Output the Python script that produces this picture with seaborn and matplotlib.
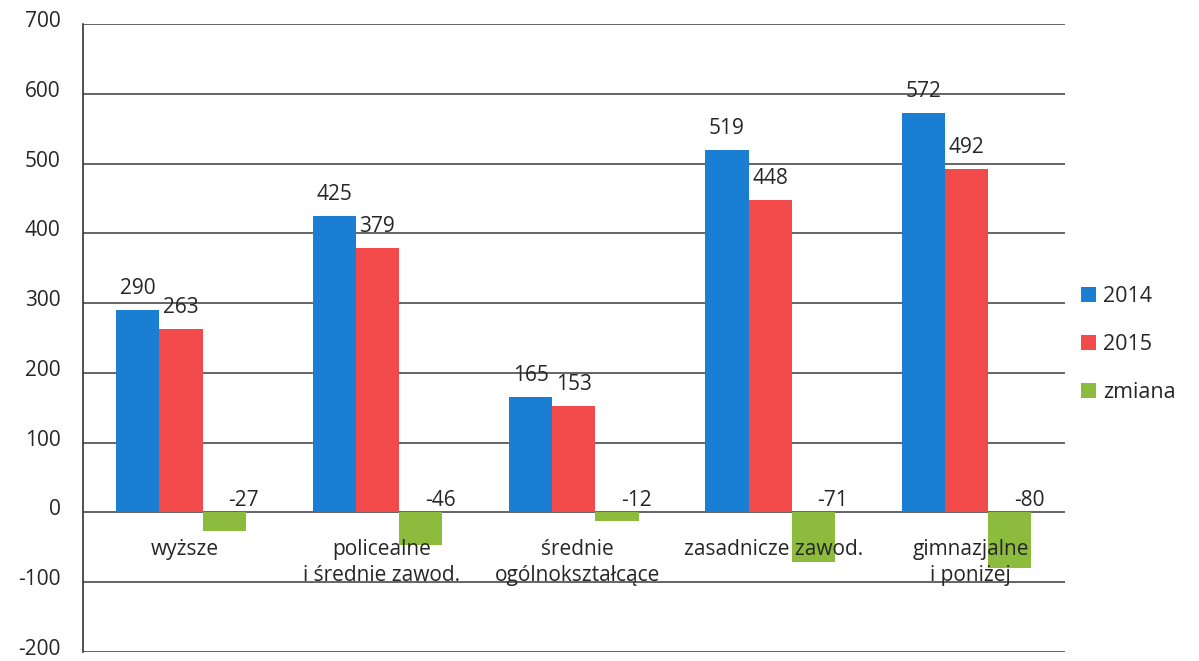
import pandas as pd
import numpy as np
import matplotlib
matplotlib.use('Agg')
import matplotlib.pyplot as plt
import matplotlib.transforms as mtransforms
import seaborn as sns

# chart values
categories = ['wyższe', 'policealne\ni średnie zawod.', 'średnie\nogólnokształcące',
              'zasadnicze zawod.', 'gimnazjalne\ni poniżej']
v2014 = [290, 425, 165, 519, 572]
v2015 = [263, 379, 153, 448, 492]
zmiana = [-27, -46, -12, -71, -80]
series = ['2014', '2015', 'zmiana']
colors = ['#1a7ed3', '#f24a4a', '#8cbb3e']

# long format table for seaborn
data = pd.DataFrame({
    'kategoria': categories * 3,
    'seria': [s for s in series for _ in categories],
    'wartosc': v2014 + v2015 + zmiana,
})

sns.set_style('white')
plt.rcParams['font.family'] = ['Open Sans', 'DejaVu Sans']
plt.rcParams['axes.unicode_minus'] = False

fig = plt.figure(figsize=(11.99, 6.61), dpi=100)
ax = fig.add_axes([0.069, 0.0136, 0.819, 0.950])

sns.barplot(data=data, x='kategoria', y='wartosc', hue='seria', order=categories,
            hue_order=series, palette=colors, width=0.66, saturation=1,
            linewidth=0, ax=ax, legend=True)

ax.set_ylim(-200, 700)
ax.set_xlim(-0.5, 4.5)
ax.set_yticks(np.arange(-200, 701, 100))
ax.set_xlabel('')
ax.set_ylabel('')

# gridlines
ax.yaxis.grid(True, color='#3a3a3a', linewidth=1.1)
ax.set_axisbelow(True)
for s in ['top', 'right', 'bottom']:
    ax.spines[s].set_visible(False)
ax.spines['left'].set_color('#333333')
ax.spines['left'].set_linewidth(1.2)

ax.tick_params(axis='y', length=0, pad=16, labelsize=15)
# y labels sit a little above their gridline, as in the scan
shift = mtransforms.ScaledTranslation(0, 5 / 100, fig.dpi_scale_trans)
for lab in ax.get_yticklabels():
    lab.set_transform(lab.get_transform() + shift)

ax.set_xticks(range(len(categories)))
ax.set_xticklabels([])
ax.tick_params(axis='x', length=0)

# category labels drawn at the zero line, above the bars
for i, cat in enumerate(categories):
    ax.annotate(cat, (i + 0.02, 0), xytext=(0, -19), textcoords='offset points',
                ha='center', va='top', fontsize=15, linespacing=1.35, zorder=10)

# value labels
bar_w = 0.66 / 3
for k, (name, vals) in enumerate(zip(series, [v2014, v2015, zmiana])):
    for i, v in enumerate(vals):
        xc = i - bar_w + k * bar_w
        if v >= 0:
            ax.annotate(str(v), (xc, v), xytext=(0, 8), textcoords='offset points',
                        ha='center', va='bottom', fontsize=15, zorder=10)
        else:
            ax.annotate(str(v), (xc, 0), xytext=(14, 1), textcoords='offset points',
                        ha='center', va='bottom', fontsize=15, zorder=10)

# legend
handles, labels = ax.get_legend_handles_labels()
ax.legend(handles, labels, loc='center left', bbox_to_anchor=(0.997, 0.49),
          frameon=False, fontsize=15.5, handlelength=0.7, handleheight=0.7,
          handletextpad=0.3, labelspacing=1.25)

fig.savefig('out.png', dpi=100)
